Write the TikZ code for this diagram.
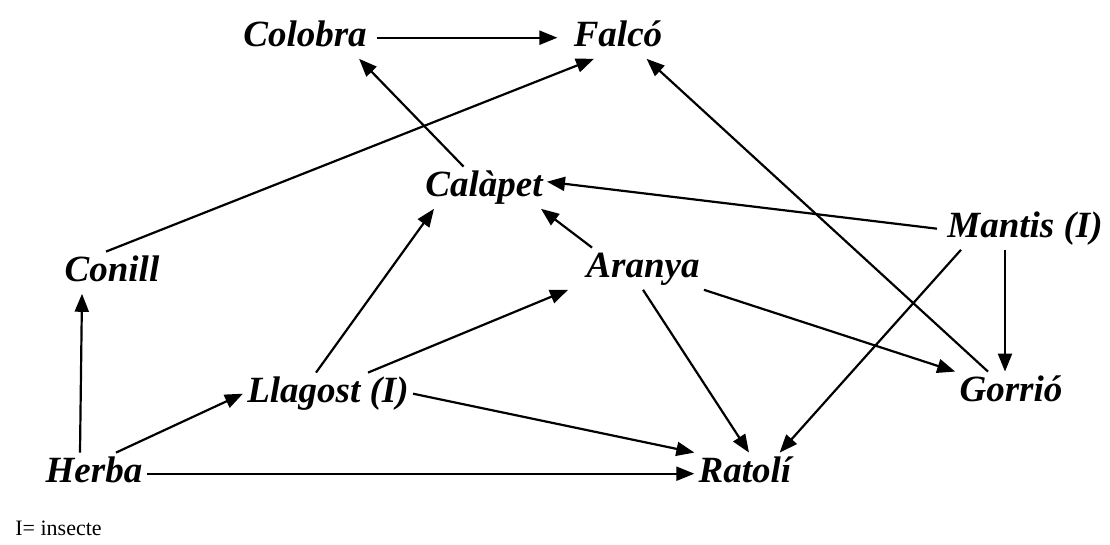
\documentclass[tikz,border=0pt]{standalone}
\usepackage{fontspec}
\setmainfont{Liberation Serif}
\usepackage{tikz}
\usetikzlibrary{arrows.meta}
\tikzstyle{NodeFood}=[anchor=base,inner sep=2pt,text height=13pt,text depth=3.7pt,
font=\bfseries\itshape\fontsize{18.5}{20}\selectfont]
\tikzstyle{EdgeFood}=[black,line width=1.1pt,-{Triangle[length=9pt,width=7pt]}]

\begin{document}
\begin{tikzpicture}[x=0.5pt,y=-0.5pt]
        \useasboundingbox(0,0)rectangle(1110,545);
        \node[NodeFood](colobra)at(305,47){Colobra};
        \node[NodeFood](falco)at(618,47){Falcó};
        \node[NodeFood](calapet)at(484,197){Calàpet};
        \node[NodeFood](mantis)at(1025,238){Mantis (I)};
        \node[NodeFood](conill)at(112,282){Conill};
        \node[NodeFood](aranya)at(643,278){Aranya};
        \node[NodeFood](llagost)at(328,403){Llagost (I)};
        \node[NodeFood](gorrio)at(1011,402){Gorrió};
        \node[NodeFood](herba)at(94,483){Herba};
        \node[NodeFood](ratoli)at(745,483){Ratolí};
        \node[anchor=base west,inner sep=0pt,font=\fontsize{11}{12}\selectfont](insecte)at(15,536){I= insecte};
        \draw[EdgeFood]([xshift=3pt]colobra.east)--([xshift=-6pt]falco.west);
        \draw[EdgeFood]([xshift=-3pt]conill.north)--([xshift=-12pt]falco.south);
        \draw[EdgeFood](calapet)--([xshift=-6pt]colobra.south east);
        \draw[EdgeFood](gorrio)--([xshift=-10pt]falco.south east);
        \draw[EdgeFood]([xshift=-3pt]mantis.west)--([yshift=3pt]calapet.east);
        \draw[EdgeFood]([xshift=5pt]aranya.north west)--([xshift=-3pt]calapet.south east);
        \draw[EdgeFood]([xshift=-7pt]herba.north)--([xshift=-15pt]conill.south);
        \draw[EdgeFood]([xshift=11pt]herba.north)--(llagost.west);
        \draw[EdgeFood](herba)--(ratoli);
        \draw[EdgeFood]([xshift=-6pt]llagost.north)--([xshift=-25pt]calapet.south);
        \draw[EdgeFood]([xshift=20pt]llagost.north)--([xshift=-7pt]aranya.south west);
        \draw[EdgeFood](llagost.east)--(ratoli.north west);
        \draw[EdgeFood](aranya.south)--([xshift=2pt]ratoli.north);
        \draw[EdgeFood](aranya.south east)--(gorrio.north west);
        \draw[EdgeFood]([xshift=-10pt]mantis.south)--([xshift=-3pt]gorrio.north);
        \draw[EdgeFood]([xshift=-32pt]mantis.south)--([xshift=-8pt]ratoli.north east);
    \end{tikzpicture}
\end{document}
